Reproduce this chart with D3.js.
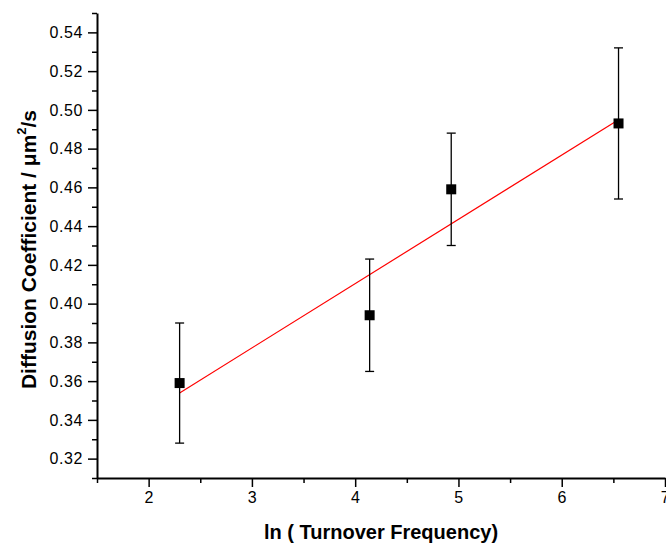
<!DOCTYPE html>
<html>
<head>
<meta charset="utf-8">
<script src="https://cdn.jsdelivr.net/npm/d3@7"></script>
<style>
  body { margin: 0; background: #fff; }
  svg { display: block; font-family: "Liberation Sans", Arial, sans-serif; }
</style>
</head>
<body>
<div id="chart"></div>
<script>
// DATA
const lnTof = [2.30, 4.14, 4.93, 6.55];
const diffCoef = [0.359, 0.394, 0.459, 0.493];
const errUp = [0.031, 0.029, 0.029, 0.039];
const errDown = [0.031, 0.029, 0.029, 0.039];
const xTicks = [2, 3, 4, 5, 6, 7];
const yTicks = [0.32, 0.34, 0.36, 0.38, 0.40, 0.42, 0.44, 0.46, 0.48, 0.50, 0.52, 0.54];

const width = 666, height = 544;
const MARGIN = { top: 13, right: 1, bottom: 66, left: 97 };

const svg = d3.select('#chart').append('svg')
    .attr('width', width)
    .attr('height', height);

// SCALES
const xScale = d3.scaleLinear().domain([1.5, 7]).range([MARGIN.left, width - MARGIN.right]);
const yScale = d3.scaleLinear().domain([0.31, 0.55]).range([height - MARGIN.bottom, MARGIN.top]);

// X AXIS (major + minor)
const xMinor = d3.range(1.5, 7.01, 0.5).filter(v => !xTicks.includes(v));
svg.append('g')
    .attr('transform', `translate(0, ${height - MARGIN.bottom})`)
    .call(d3.axisBottom(xScale).tickValues(xMinor).tickSize(5).tickFormat('').tickSizeOuter(0))
    .call(g => g.select('.domain').remove())
    .call(g => g.selectAll('line').attr('stroke-width', 1.5));

const xAxis = svg.append('g')
    .attr('transform', `translate(0, ${height - MARGIN.bottom})`)
    .call(d3.axisBottom(xScale).tickValues(xTicks).tickSize(9).tickPadding(5).tickFormat(d3.format('d')).tickSizeOuter(0));
xAxis.select('.domain').attr('stroke-width', 2);
xAxis.selectAll('line').attr('stroke-width', 1.5);
xAxis.selectAll('text').attr('font-size', 16).attr('letter-spacing', 0.6).attr('fill', '#000');

// Y AXIS (major + minor)
const yMinor = d3.range(0.31, 0.551, 0.02);
svg.append('g')
    .attr('transform', `translate(${MARGIN.left}, 0)`)
    .call(d3.axisLeft(yScale).tickValues(yMinor).tickSize(5).tickFormat('').tickSizeOuter(0))
    .call(g => g.select('.domain').remove())
    .call(g => g.selectAll('line').attr('stroke-width', 1.5));

const yAxis = svg.append('g')
    .attr('transform', `translate(${MARGIN.left}, 0)`)
    .call(d3.axisLeft(yScale).tickValues(yTicks).tickSize(9).tickPadding(5).tickFormat(d3.format('.2f')).tickSizeOuter(0));
yAxis.select('.domain').attr('stroke-width', 2);
yAxis.selectAll('line').attr('stroke-width', 1.5);
yAxis.selectAll('text').attr('font-size', 16).attr('letter-spacing', 0.6).attr('fill', '#000');

// LINEAR FIT (least squares on the points)
const mx = d3.mean(lnTof), my = d3.mean(diffCoef);
const sxy = d3.sum(lnTof, (x, i) => (x - mx) * (diffCoef[i] - my));
const sxx = d3.sum(lnTof, x => (x - mx) * (x - mx));
const slope = sxy / sxx, icpt = my - slope * mx;
const fitX = [d3.min(lnTof), d3.max(lnTof)];
svg.append('path')
    .datum(fitX)
    .attr('fill', 'none')
    .attr('stroke', '#ff0000')
    .attr('stroke-width', 1.2)
    .attr('d', d3.line().x(d => xScale(d)).y(d => yScale(icpt + slope * d)));

// ERROR BARS
const pts = lnTof.map((x, i) => ({ x, y: diffCoef[i], lo: diffCoef[i] - errDown[i], hi: diffCoef[i] + errUp[i] }));
const eb = svg.append('g').attr('stroke', '#000').attr('stroke-width', 1.3);
eb.selectAll('.v').data(pts).enter().append('line')
    .attr('x1', d => xScale(d.x)).attr('x2', d => xScale(d.x))
    .attr('y1', d => yScale(d.lo)).attr('y2', d => yScale(d.hi));
['lo', 'hi'].forEach(k => {
    eb.selectAll('.c' + k).data(pts).enter().append('line')
        .attr('x1', d => xScale(d.x) - 4.5).attr('x2', d => xScale(d.x) + 4.5)
        .attr('y1', d => yScale(d[k])).attr('y2', d => yScale(d[k]));
});

// MARKERS
svg.append('g').selectAll('rect').data(pts).enter().append('rect')
    .attr('x', d => xScale(d.x) - 5)
    .attr('y', d => yScale(d.y) - 5)
    .attr('width', 10).attr('height', 10)
    .attr('fill', '#000');

// AXIS TITLES
svg.append('text')
    .attr('x', (xScale.range()[0] + xScale.range()[1]) / 2)
    .attr('y', 539)
    .attr('text-anchor', 'middle')
    .attr('font-size', 20).attr('font-weight', 'bold')
    .text('ln ( Turnover Frequency)');

const yt = svg.append('text')
    .attr('transform', `translate(36, ${(yScale.range()[0] + yScale.range()[1]) / 2 + 4}) rotate(-90)`)
    .attr('text-anchor', 'middle')
    .attr('font-size', 21).attr('font-weight', 'bold');
yt.append('tspan').text('Diffusion Coefficient / \u03bcm');
yt.append('tspan').attr('font-size', 13).attr('dy', -10).text('2');
yt.append('tspan').attr('dy', 10).text('/s');
</script>
</body>
</html>
